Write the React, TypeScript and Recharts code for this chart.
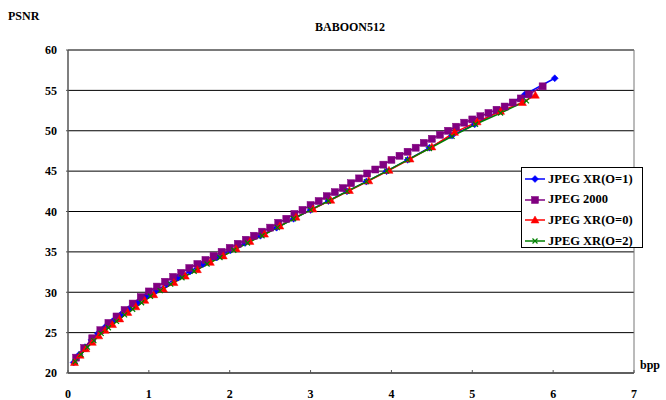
import React from "react";
import { LineChart, Line, XAxis, YAxis, CartesianGrid, ReferenceLine } from "recharts";

const xTicks = [0, 1, 2, 3, 4, 5, 6, 7];
const yTicks = [20, 25, 30, 35, 40, 45, 50, 55, 60];

const seriesNames = ["JPEG XR(O=1)", "JPEG 2000", "JPEG XR(O=0)", "JPEG XR(O=2)"];
const seriesColors = ["#0000FF", "#800080", "#FF0000", "#008000"];

const xrO1Bpp = [0.07, 0.14, 0.21, 0.29, 0.37, 0.46, 0.55, 0.65, 0.75, 0.86, 0.97, 1.09, 1.22, 1.36, 1.51, 1.67, 1.84, 2.01, 2.19, 2.38, 2.58, 2.79, 3.0, 3.22, 3.45, 3.69, 3.94, 4.2, 4.47, 4.75, 5.03, 5.32, 5.65, 6.02];
const xrO1Psnr = [21.3, 22.3, 23.2, 24.1, 24.9, 25.7, 26.4, 27.2, 27.9, 28.7, 29.5, 30.2, 31.0, 31.8, 32.6, 33.5, 34.3, 35.2, 36.1, 37.0, 38.0, 39.1, 40.2, 41.3, 42.5, 43.7, 45.0, 46.4, 47.9, 49.4, 50.8, 52.4, 54.5, 56.5];

const j2kBpp = [0.1, 0.2, 0.3, 0.4, 0.5, 0.6, 0.7, 0.8, 0.9, 1.0, 1.1, 1.2, 1.3, 1.4, 1.5, 1.6, 1.7, 1.8, 1.9, 2.0, 2.1, 2.2, 2.3, 2.4, 2.5, 2.6, 2.7, 2.8, 2.9, 3.0, 3.1, 3.2, 3.3, 3.4, 3.5, 3.6, 3.7, 3.8, 3.9, 4.0, 4.1, 4.2, 4.3, 4.4, 4.5, 4.6, 4.7, 4.8, 4.9, 5.0, 5.1, 5.2, 5.3, 5.4, 5.5, 5.6, 5.7, 5.87];
const j2kPsnr = [21.9, 23.1, 24.3, 25.3, 26.2, 27.0, 27.8, 28.6, 29.4, 30.1, 30.7, 31.3, 31.9, 32.4, 33.0, 33.5, 34.0, 34.5, 35.0, 35.5, 36.0, 36.5, 37.0, 37.5, 38.0, 38.6, 39.1, 39.7, 40.2, 40.8, 41.3, 41.9, 42.4, 42.9, 43.5, 44.1, 44.7, 45.2, 45.8, 46.4, 46.9, 47.4, 47.9, 48.5, 49.0, 49.5, 50.0, 50.5, 51.0, 51.4, 51.8, 52.2, 52.6, 53.0, 53.5, 54.0, 54.5, 55.5];

const xrO0Bpp = [0.08, 0.15, 0.22, 0.3, 0.38, 0.46, 0.55, 0.64, 0.74, 0.84, 0.95, 1.06, 1.18, 1.31, 1.45, 1.6, 1.76, 1.92, 2.08, 2.25, 2.43, 2.62, 2.82, 3.03, 3.25, 3.48, 3.72, 3.97, 4.23, 4.5, 4.78, 5.06, 5.35, 5.62, 5.78];
const xrO0Psnr = [21.3, 22.2, 23.0, 23.8, 24.6, 25.3, 26.0, 26.7, 27.5, 28.2, 29.0, 29.7, 30.4, 31.2, 32.0, 32.8, 33.7, 34.5, 35.4, 36.3, 37.2, 38.2, 39.3, 40.3, 41.4, 42.6, 43.8, 45.1, 46.5, 48.0, 49.8, 51.1, 52.4, 53.5, 54.4];

const xrO2Bpp = [0.09, 0.16, 0.24, 0.32, 0.41, 0.5, 0.6, 0.7, 0.8, 0.91, 1.02, 1.14, 1.27, 1.41, 1.56, 1.72, 1.88, 2.05, 2.22, 2.4, 2.59, 2.79, 3.0, 3.22, 3.45, 3.69, 3.94, 4.2, 4.47, 4.75, 5.04, 5.35, 5.67];
const xrO2Psnr = [21.4, 22.3, 23.2, 24.0, 24.9, 25.6, 26.4, 27.2, 27.9, 28.7, 29.5, 30.2, 31.0, 31.8, 32.6, 33.5, 34.3, 35.2, 36.1, 37.0, 38.0, 39.1, 40.2, 41.3, 42.5, 43.7, 45.0, 46.4, 47.8, 49.3, 50.8, 52.2, 53.7];

const toRows = (xs: number[], ys: number[]) => xs.map((x, i) => ({ x, y: ys[i] }));
const seriesData = [
  toRows(xrO1Bpp, xrO1Psnr),
  toRows(j2kBpp, j2kPsnr),
  toRows(xrO0Bpp, xrO0Psnr),
  toRows(xrO2Bpp, xrO2Psnr),
];

const FONT = "'Liberation Serif', 'Times New Roman', serif";

function Marker({ kind, cx, cy, color }: { kind: number; cx: number; cy: number; color: string }) {
  if (kind === 0) {
    const r = 3.5;
    return <path d={`M${cx},${cy - r}L${cx + r},${cy}L${cx},${cy + r}L${cx - r},${cy}Z`} fill={color} stroke={color} strokeWidth={0.5} />;
  }
  if (kind === 1) {
    const r = 3.5;
    return <rect x={cx - r} y={cy - r} width={2 * r} height={2 * r} fill={color} stroke={color} strokeWidth={0.5} />;
  }
  if (kind === 2) {
    const r = 4;
    return <path d={`M${cx},${cy - r}L${cx + r},${cy + r * 0.75}L${cx - r},${cy + r * 0.75}Z`} fill={color} stroke={color} strokeWidth={0.5} />;
  }
  const r = 2.5;
  return <path d={`M${cx - r},${cy - r}L${cx + r},${cy + r}M${cx - r},${cy + r}L${cx + r},${cy - r}`} stroke={color} strokeWidth={1.2} fill="none" />;
}

function makeDot(kind: number, color: string) {
  return (p: any) => {
    if (p.cx == null || p.cy == null) return <g key={`d${kind}-${p.index}`} />;
    return (
      <g key={`d${kind}-${p.index}`}>
        <Marker kind={kind} cx={p.cx} cy={p.cy} color={color} />
      </g>
    );
  };
}

function LegendBox() {
  return (
    <div
      style={{
        position: "absolute",
        left: 521,
        top: 167,
        width: 122,
        height: 81,
        border: "1px solid #000",
        background: "#fff",
        boxSizing: "border-box",
        padding: "1px 0 0 3px",
        fontFamily: FONT,
        fontWeight: "bold",
        fontSize: 12.5,
      }}
    >
      {seriesNames.map((n, i) => (
        <div key={n} style={{ display: "flex", alignItems: "center", height: 20.6, whiteSpace: "nowrap" }}>
          <svg width={20} height={10} style={{ marginRight: 3 }}>
            <line x1={0} y1={5} x2={20} y2={5} stroke={seriesColors[i]} strokeWidth={1.5} />
            <Marker kind={i} cx={10} cy={5} color={seriesColors[i]} />
          </svg>
          <span>{n}</span>
        </div>
      ))}
    </div>
  );
}

export default function App() {
  return (
    <div style={{ position: "absolute", left: 0, top: 0, width: 666, height: 400, background: "#fff" }}>
      <LineChart width={666} height={400} margin={{ top: 50, right: 32, bottom: 0, left: 0 }}>
        <CartesianGrid horizontal={true} vertical={false} stroke="#000" strokeWidth={1} />
        <XAxis
          type="number"
          dataKey="x"
          domain={[0, 7]}
          ticks={xTicks}
          allowDataOverflow
          height={27}
          axisLine={{ stroke: "#555", strokeWidth: 1.5 }}
          tickLine={{ stroke: "#555" }}
          tickSize={-3}
          tickMargin={19}
          tick={{ fontFamily: FONT, fontWeight: "bold", fontSize: 12, fill: "#000" }}
        />
        <YAxis
          type="number"
          domain={[20, 60]}
          ticks={yTicks}
          width={68}
          axisLine={{ stroke: "#555", strokeWidth: 1.5 }}
          tickLine={{ stroke: "#555" }}
          tickSize={2}
          tickMargin={9}
          tick={{ fontFamily: FONT, fontWeight: "bold", fontSize: 12, fill: "#000" }}
        />
        <ReferenceLine x={7} stroke="#777" strokeWidth={1} />
        <ReferenceLine y={60} stroke="#777" strokeWidth={1} />
        {seriesData.map((d, i) => (
          <Line
            key={seriesNames[i]}
            data={d}
            dataKey="y"
            name={seriesNames[i]}
            type="linear"
            stroke={seriesColors[i]}
            strokeWidth={1.5}
            dot={makeDot(i, seriesColors[i])}
            activeDot={false}
            isAnimationActive={false}
          />
        ))}
      </LineChart>
      <LegendBox />
      <div style={{ position: "absolute", left: 8, top: 9, fontFamily: FONT, fontWeight: "bold", fontSize: 12 }}>PSNR</div>
      <div style={{ position: "absolute", left: 0, width: 700, top: 20, textAlign: "center", fontFamily: FONT, fontWeight: "bold", fontSize: 12 }}>BABOON512</div>
      <div style={{ position: "absolute", left: 640, top: 358, fontFamily: FONT, fontWeight: "bold", fontSize: 12 }}>bpp</div>
    </div>
  );
}
